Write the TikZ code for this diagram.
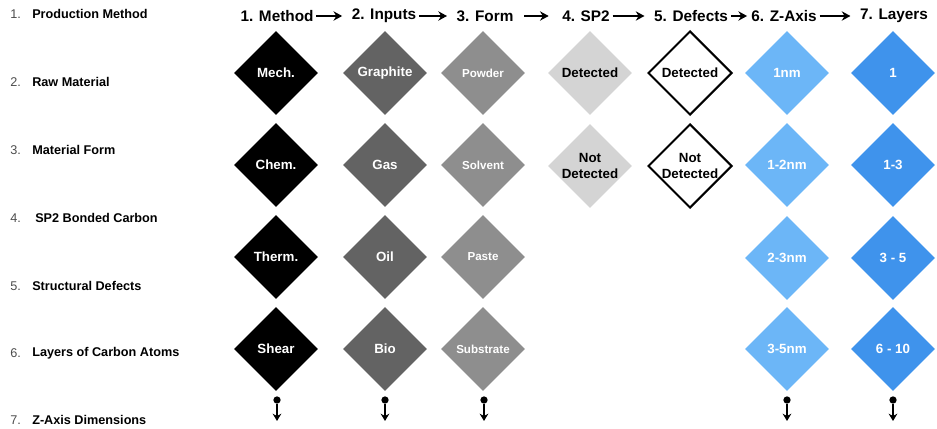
\documentclass[tikz,border=0pt]{standalone}
\usepackage{fontspec}
\setmainfont{Liberation Sans}
\usetikzlibrary{shapes.geometric,arrows.meta}

\definecolor{inputgray}{HTML}{636363}
\definecolor{formgray}{HTML}{8E8E8E}
\definecolor{spgray}{HTML}{D4D4D4}
\definecolor{zblue}{HTML}{6CB6F7}
\definecolor{layerblue}{HTML}{3F93EC}

\begin{document}
\begin{tikzpicture}[
                x=0.75pt, y=-0.75pt,
                >={Stealth[length=6.5pt,width=7pt]},
                hdr/.style={inner sep=0pt, font=\bfseries\fontsize{11.5}{13}\selectfont},
                hdrarrow/.style={->, line width=1.6pt, shorten <=2pt, shorten >=7pt},
                num/.style={anchor=west, inner sep=0pt, text=black!70, font=\fontsize{9.5}{11}\selectfont},
                lbl/.style={anchor=west, inner sep=0pt, font=\bfseries\fontsize{9.5}{11}\selectfont},
                dia/.style={diamond, aspect=1, minimum width=63pt, minimum height=63pt, inner sep=0pt,
                            align=center, text=white, font=\bfseries\fontsize{10}{12.5}\selectfont},
                methodfill/.style={dia, fill=black},
                inputfill/.style={dia, fill=inputgray},
                formfill/.style={dia, fill=formgray, font=\bfseries\fontsize{8.7}{11}\selectfont},
                spfill/.style={dia, fill=spgray, text=black},
                defectfill/.style={dia, draw=black, line width=1.5pt, fill=white, text=black},
                zfill/.style={dia, fill=zblue},
                layerfill/.style={dia, fill=layerblue},
                dot/.style={circle, fill=black, inner sep=0pt, minimum size=5.5pt},
                downarrow/.style={-{Stealth[length=5.5pt,width=6.5pt]}, line width=1.4pt}
            ]
            \useasboundingbox (0,0) rectangle (937,428);

            % list on the left
            \node[num] (n1) at (10,14) {1.};  \node[lbl] (l1) at (32,14) {Production Method};
            \node[num] (n2) at (10,82) {2.};  \node[lbl] (l2) at (32,82) {Raw Material};
            \node[num] (n3) at (10,150) {3.}; \node[lbl] (l3) at (32,150) {Material Form};
            \node[num] (n4) at (10,218) {4.}; \node[lbl] (l4) at (35,218) {SP2 Bonded Carbon};
            \node[num] (n5) at (10,286) {5.}; \node[lbl] (l5) at (32,286) {Structural Defects};
            \node[num] (n6) at (10,353) {6.}; \node[lbl] (l6) at (32,353) {Layers of Carbon Atoms};
            \node[num] (n7) at (10,420) {7.}; \node[lbl] (l7) at (32,420) {Z-Axis Dimensions};

            % column headings
            \node[hdr] (h1) at (277,16) {1. Method};
            \node[hdr] (h2) at (384,16) {2. Inputs};
            \node[hdr] (h3) at (485,16) {3. Form};
            \node[hdr] (h4) at (586,16) {4. SP2};
            \node[hdr] (h5) at (691,16) {5. Defects};
            \node[hdr] (h6) at (784,16) {6. Z-Axis};
            \node[hdr] (h7) at (894,16) {7. Layers};
            \draw[hdrarrow] (h1) -- (h2);
            \draw[hdrarrow] (h2) -- (h3);
            \draw[hdrarrow, shorten <=8pt, shorten >=10pt] (h3) -- (h4);
            \draw[hdrarrow] (h4) -- (h5);
            \draw[hdrarrow, shorten >=3pt] (h5) -- (h6);
            \draw[hdrarrow] (h6) -- (h7);

            % 1. method
            \node[methodfill] (mech) at (276,73) {Mech.};
            \node[methodfill] (chem) at (276,165) {Chem.};
            \node[methodfill] (therm) at (276,257) {Therm.};
            \node[methodfill] (shear) at (276,349) {Shear};

            % 2. inputs
            \node[inputfill] (graphite) at (385,73) {Graphite};
            \node[inputfill] (gas) at (385,165) {Gas};
            \node[inputfill] (oil) at (385,257) {Oil};
            \node[inputfill] (bio) at (385,349) {Bio};

            % 3. form
            \node[formfill] (powder) at (483,73) {Powder};
            \node[formfill] (solvent) at (483,165) {Solvent};
            \node[formfill] (paste) at (483,257) {Paste};
            \node[formfill] (substrate) at (483,349) {Substrate};

            % 4. SP2 and 5. defects
            \node[spfill] (spyes) at (590,73) {Detected};
            \node[spfill] (spno) at (590,166) {Not\\Detected};
            \node[defectfill] (defyes) at (690,73) {Detected};
            \node[defectfill] (defno) at (690,166) {Not\\Detected};

            % 6. z-axis
            \node[zfill] (z1) at (787,73) {1nm};
            \node[zfill] (z2) at (787,165) {1-2nm};
            \node[zfill] (z3) at (787,258) {2-3nm};
            \node[zfill] (z4) at (787,349) {3-5nm};

            % 7. layers
            \node[layerfill] (lay1) at (893,73) {1};
            \node[layerfill] (lay2) at (893,165) {1-3};
            \node[layerfill] (lay3) at (893,258) {3 - 5};
            \node[layerfill] (lay4) at (893,349) {6 - 10};

            % arrows at the foot of the columns
            \node[dot] (d1) at (277,400) {}; \coordinate (e1) at (277,421);
            \node[dot] (d2) at (385,400) {}; \coordinate (e2) at (385,421);
            \node[dot] (d3) at (484,400) {}; \coordinate (e3) at (484,421);
            \node[dot] (d6) at (787,400) {}; \coordinate (e6) at (787,421);
            \node[dot] (d7) at (893,400) {}; \coordinate (e7) at (893,421);
            \draw[downarrow] (d1) -- (e1);
            \draw[downarrow] (d2) -- (e2);
            \draw[downarrow] (d3) -- (e3);
            \draw[downarrow] (d6) -- (e6);
            \draw[downarrow] (d7) -- (e7);
        \end{tikzpicture}
\end{document}
